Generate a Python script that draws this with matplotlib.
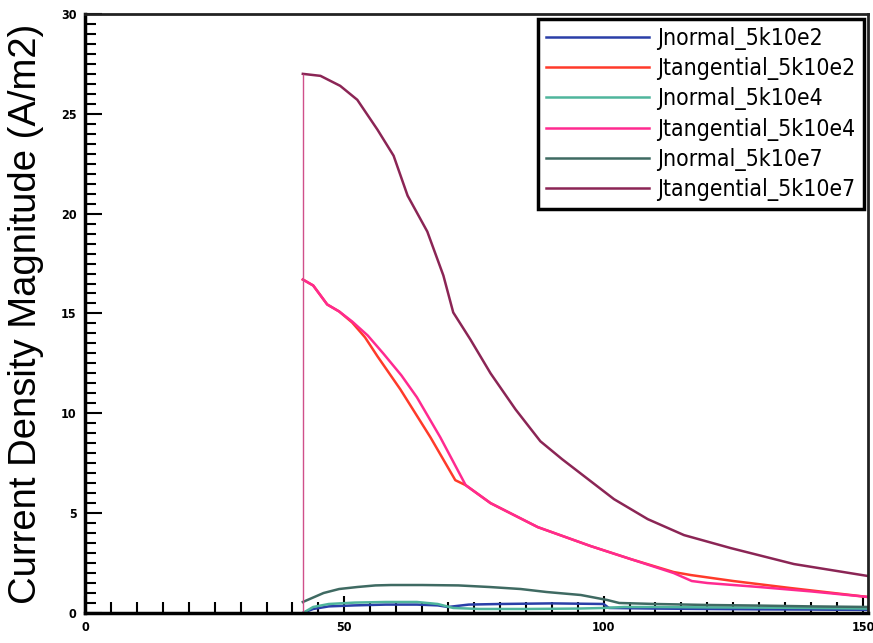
import matplotlib.pyplot as plt
from matplotlib.ticker import MultipleLocator

X_N2 = [42, 44, 47, 52, 58, 64, 68, 70, 74, 80, 90, 100, 101, 110, 120, 130, 140, 151]
Y_N2 = [0.0, 0.2, 0.33, 0.38, 0.42, 0.42, 0.38, 0.3, 0.42, 0.45, 0.48, 0.45, 0.25, 0.22, 0.2, 0.18, 0.17, 0.15]

X_T2 = [42, 44, 46.7, 49, 51.5, 54, 56.4, 60.8, 66.6, 71.4, 73.4, 78.2, 87.3, 97.5, 105.2, 113.5, 116.8, 125, 136, 151]
Y_T2 = [16.7, 16.4, 15.45, 15.1, 14.55, 13.8, 12.85, 11.2, 8.8, 6.65, 6.4, 5.5, 4.3, 3.35, 2.7, 2.05, 1.9, 1.6, 1.25, 0.8]

X_N4 = [42, 44, 47, 52, 58, 64, 68, 71, 76, 85, 95, 100, 104, 110, 120, 130, 140, 151]
Y_N4 = [0.0, 0.3, 0.45, 0.52, 0.55, 0.55, 0.45, 0.25, 0.2, 0.2, 0.22, 0.25, 0.3, 0.3, 0.28, 0.27, 0.25, 0.22]

X_T4 = [42, 44, 46.7, 49, 51.5, 54.5, 57.5, 61, 64, 68.5, 73.4, 78.2, 87.3, 97.5, 105.2, 113.5, 117, 120, 130, 140, 151]
Y_T4 = [16.7, 16.4, 15.45, 15.1, 14.6, 13.9, 13.0, 11.9, 10.8, 8.8, 6.4, 5.5, 4.3, 3.35, 2.7, 2.0, 1.6, 1.5, 1.3, 1.08, 0.8]

X_N7 = [42, 46, 49, 52.5, 56, 59, 65, 72, 78, 84, 89, 95.6, 100.7, 103, 110, 120, 130, 140, 151]
Y_N7 = [0.55, 1.0, 1.2, 1.3, 1.38, 1.4, 1.4, 1.38, 1.3, 1.2, 1.05, 0.9, 0.65, 0.5, 0.45, 0.4, 0.37, 0.33, 0.3]

X_T7 = [42, 45.4, 49.2, 52.5, 56.4, 59.5, 62.2, 66, 69.1, 71, 74.3, 78.2, 83, 87.8, 92, 97.5, 102, 108.5, 115.5, 124.5, 136.7, 151]
Y_T7 = [27.0, 26.9, 26.4, 25.7, 24.2, 22.9, 20.9, 19.1, 16.9, 15.05, 13.7, 12.0, 10.2, 8.6, 7.7, 6.6, 5.7, 4.7, 3.9, 3.25, 2.45, 1.85]

LABELS = ["Jnormal_5k10e2", "Jtangential_5k10e2", "Jnormal_5k10e4",
          "Jtangential_5k10e4", "Jnormal_5k10e7", "Jtangential_5k10e7"]
COLORS = ["#2a3fa8", "#ff3a2a", "#4fb59c", "#ff2a90", "#3f6a62", "#8b2555"]


def makePlot():
	fig = plt.figure(figsize=(8.73, 6.43), dpi=100)
	ax = fig.add_axes([0.0974, 0.0467, 0.897, 0.9316])

	series = [(X_N2, Y_N2), (X_T2, Y_T2), (X_N4, Y_N4),
		(X_T4, Y_T4), (X_N7, Y_N7), (X_T7, Y_T7)]
	for i in range(len(series)):
		ax.plot(series[i][0], series[i][1], color=COLORS[i], lw=1.8, label=LABELS[i])

	# thin vertical jump at the start of the 5k10e7 curve
	ax.vlines(X_T7[0], 0, Y_T7[0], color="#d0508a", lw=1.0)

	ax.set_xlim(0, 151)
	ax.set_ylim(0, 30)
	ax.xaxis.set_major_locator(MultipleLocator(50))
	ax.xaxis.set_minor_locator(MultipleLocator(5))
	ax.yaxis.set_major_locator(MultipleLocator(5))
	ax.yaxis.set_minor_locator(MultipleLocator(0.5))
	ax.tick_params(which="both", direction="in", width=1.5, color="black")
	ax.tick_params(which="major", length=12, pad=6)
	ax.tick_params(which="minor", length=8)
	for lab in ax.get_xticklabels() + ax.get_yticklabels():
		lab.set_family("DejaVu Sans")
		lab.set_stretch("condensed")
		lab.set_fontweight("bold")
		lab.set_fontsize(9)
	ax.get_xticklabels()[-1].set_horizontalalignment("right")

	for side in ["left", "bottom"]:
		ax.spines[side].set_linewidth(2.5)
	for side in ["top", "right"]:
		ax.spines[side].set_linewidth(2.0)
		ax.spines[side].set_color("#222222")

	ax.set_ylabel("Current Density Magnitude (A/m2)", family="Liberation Sans",
		fontsize=27.5, labelpad=12)

	leg = ax.legend(loc="upper right",
		prop={"family": "DejaVu Sans", "stretch": "condensed", "size": 16.5},
		handlelength=4.5, handletextpad=0.35, labelspacing=0.32,
		borderaxespad=0.2, borderpad=0.35, fancybox=False, framealpha=1,
		edgecolor="black")
	leg.get_frame().set_linewidth(2.5)

	fig.savefig("out.png", dpi=100)


makePlot()
